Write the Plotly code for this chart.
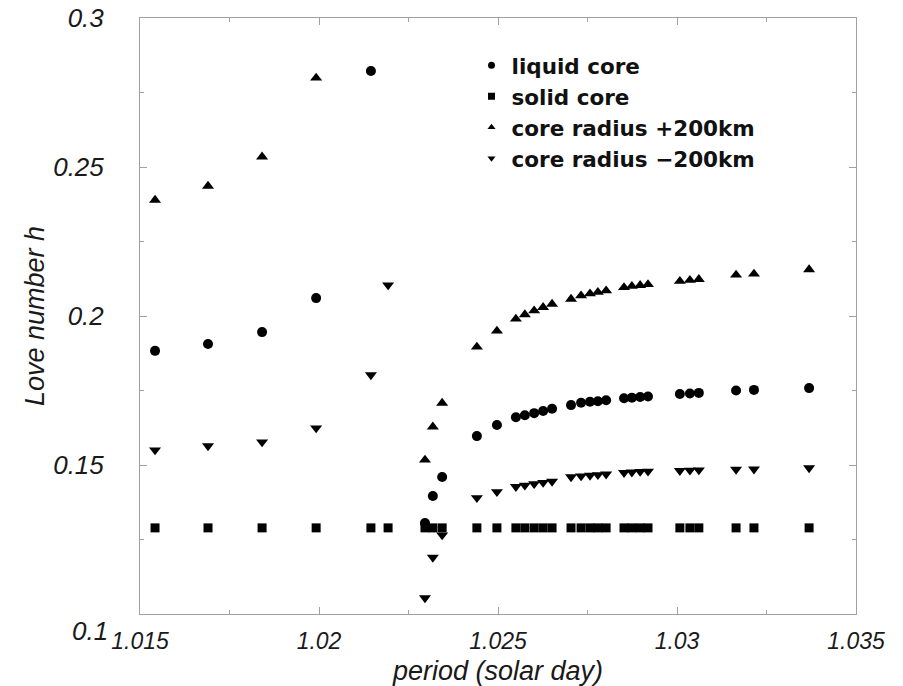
import plotly.graph_objects as go

period = [1.01542, 1.01690, 1.01841, 1.01992, 1.02145, 1.02193, 1.02296, 1.02318,
          1.02344, 1.02441, 1.02497, 1.02550, 1.02575, 1.02601, 1.02626, 1.02651,
          1.02704, 1.02732, 1.02757, 1.02779, 1.02802, 1.02852, 1.02874, 1.02897,
          1.02919, 1.03008, 1.03036, 1.03061, 1.03165, 1.03215, 1.03369]

liquid_core = [0.1883, 0.1906, 0.1946, 0.2060, 0.2822, None, 0.1305, 0.1396,
               0.1460, 0.1597, 0.1634, 0.1660, 0.1667, 0.1674, 0.1681, 0.1689,
               0.1701, 0.1709, 0.1712, 0.1714, 0.1717, 0.1724, 0.1726, 0.1728,
               0.1730, 0.1738, 0.1740, 0.1742, 0.1750, 0.1752, 0.1758]

solid_core = [0.1289] * len(period)

core_plus200 = [0.2389, 0.2436, 0.2534, 0.2799, None, None, 0.1517, 0.1628,
                0.1708, 0.1896, 0.1950, 0.1990, 0.2005, 0.2018, 0.2029, 0.2040,
                0.2057, 0.2068, 0.2075, 0.2080, 0.2085, 0.2096, 0.2100, 0.2103,
                0.2106, 0.2117, 0.2120, 0.2123, 0.2138, 0.2141, 0.2156]

core_minus200 = [0.1550, 0.1564, 0.1577, 0.1624, 0.1802, 0.2104, 0.1054, 0.1190,
                 0.1265, 0.1390, 0.1410, 0.1427, 0.1432, 0.1437, 0.1441, 0.1445,
                 0.1460, 0.1463, 0.1465, 0.1467, 0.1469, 0.1474, 0.1476, 0.1478,
                 0.1479, 0.1481, 0.1482, 0.1483, 0.1485, 0.1486, 0.1490]

series_names = ["liquid core", "solid core", "core radius +200km", "core radius \u2212200km"]
x_ticks = [1.015, 1.02, 1.025, 1.03, 1.035]
x_tick_text = ["1.015", "1.02", "1.025", "1.03", "1.035"]
y_ticks = [0.1, 0.15, 0.2, 0.25, 0.3]
y_tick_text = ["0.1", "0.15", "0.2", "0.25", "0.3"]

FONT = "Liberation Sans, Arial, Helvetica, sans-serif"
LEGEND_FONT = "DejaVu Sans, Liberation Sans, sans-serif"

fig = go.Figure()
specs = [
    (liquid_core, "circle", 10),
    (solid_core, "square", 9),
    (core_plus200, "triangle-up", 10.5),
    (core_minus200, "triangle-down", 10.5),
]
for (vals, sym, sz), name in zip(specs, series_names):
    fig.add_trace(go.Scatter(
        x=period, y=vals, mode="markers", name=name, showlegend=False,
        marker=dict(symbol=sym, size=sz, color="black"),
    ))
# legend entries with the smaller symbols used in the reference key
for (vals, sym, sz), name in zip(specs, series_names):
    fig.add_trace(go.Scatter(
        x=[None], y=[None], mode="markers", name=name,
        marker=dict(symbol=sym, size=7, color="black"),
    ))

axis_common = dict(
    showline=True, linecolor="#a0a0a0", linewidth=1, mirror="ticks",
    ticks="inside", ticklen=7, tickcolor="#a0a0a0", tickwidth=1,
    showgrid=False, zeroline=False,
)

y_label_font = dict(family=FONT, size=26, color="#1a1a1a", style="italic")

fig.update_layout(
    width=903, height=686,
    margin=dict(l=140, r=47, t=18, b=72, autoexpand=False),
    plot_bgcolor="white", paper_bgcolor="white",
    xaxis=dict(
        range=[1.015, 1.035], tickvals=x_ticks, ticktext=x_tick_text,
        minor=dict(dtick=0.0025, tick0=1.015, ticks="inside", ticklen=4, tickcolor="#a0a0a0"),
        title=dict(text="period (solar day)", standoff=8,
                   font=dict(family=FONT, size=27, color="#1a1a1a", style="italic")),
        tickfont=dict(family=FONT, size=23, color="#1a1a1a", style="italic"),
        ticklabelstandoff=6,
        **axis_common,
    ),
    yaxis=dict(
        range=[0.1, 0.3], tickvals=y_ticks,
        ticktext=[("" if v == 0.1 else t) for v, t in zip(y_ticks, y_tick_text)],
        minor=dict(dtick=0.025, tick0=0.1, ticks="inside", ticklen=4, tickcolor="#a0a0a0"),
        title=dict(text="Love number h", standoff=0,
                   font=dict(family=FONT, size=27, color="#1a1a1a", style="italic")),
        tickfont=y_label_font,
        ticklabelstandoff=30,
        **axis_common,
    ),
    legend=dict(
        x=0.463, y=0.955, xanchor="left", yanchor="top",
        bgcolor="rgba(0,0,0,0)",
        font=dict(family=LEGEND_FONT, size=21.5, color="#111", weight="bold"),
        itemsizing="trace",
    ),
    annotations=[dict(
        x=0, y=y_ticks[0], xref="paper", yref="y", text=y_tick_text[0],
        showarrow=False, xanchor="right", yanchor="middle",
        xshift=-30, yshift=-17, font=y_label_font,
    )],
)

fig.write_html("out.html")
